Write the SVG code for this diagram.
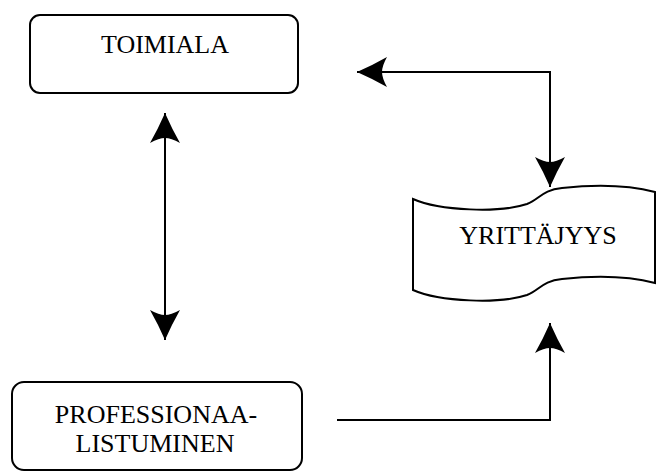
<svg xmlns="http://www.w3.org/2000/svg" width="657" height="472" viewBox="0 0 657 472">
  <style>
    .box { fill: #ffffff; stroke: #000000; stroke-width: 2; }
    .label { font-family: "Liberation Serif", "Times New Roman", serif; font-size: 26px; fill: #000000; text-anchor: middle; }
    .link { fill: none; stroke: #000000; stroke-width: 2; marker-start: url(#barb); marker-end: url(#barb); }
    .link.one { marker-start: none; }
  </style>
  <defs>
    <!-- barbed arrowhead, tip at (30,15) -->
    <marker id="barb" markerUnits="userSpaceOnUse" markerWidth="32" markerHeight="32"
            refX="30" refY="15" orient="auto-start-reverse" overflow="visible">
      <path d="M30,15 Q14,8 0,0 Q5,9 5,15 Q5,21 0,30 Q14,22 30,15 Z" fill="#000000"/>
    </marker>
  </defs>

  <rect width="657" height="472" fill="#ffffff"/>

  <g id="connectors">
    <!-- TOIMIALA <-> PROFESSIONAALISTUMINEN -->
    <path class="link" d="M165,113 V340"/>
    <!-- TOIMIALA <-> YRITTÄJYYS -->
    <path class="link" d="M357,72 H550 V187"/>
    <!-- PROFESSIONAALISTUMINEN -> YRITTÄJYYS -->
    <path class="link one" d="M337,420 H550 V323"/>
  </g>

  <g id="toimiala">
    <rect class="box" x="30" y="15" width="268" height="78" rx="10" ry="10"/>
    <text class="label" x="165" y="53">TOIMIALA</text>
  </g>

  <g id="professionaalistuminen">
    <rect class="box" x="12" y="382" width="290" height="88" rx="12" ry="12"/>
    <text class="label" x="156" y="423">PROFESSIONAA-</text>
    <text class="label" x="155" y="452">LISTUMINEN</text>
  </g>

  <g id="yrittajyys">
    <path class="box" d="M413,199 C440,211 500,213 527,204 C540,199 542,190 562,188 C600,184 632,186 655,192
                         V283
                         C632,277 600,275 562,279 C542,281 540,290 527,295 C500,304 440,302 413,290 Z"/>
    <text class="label" x="538" y="244">YRITTÄJYYS</text>
  </g>
</svg>
